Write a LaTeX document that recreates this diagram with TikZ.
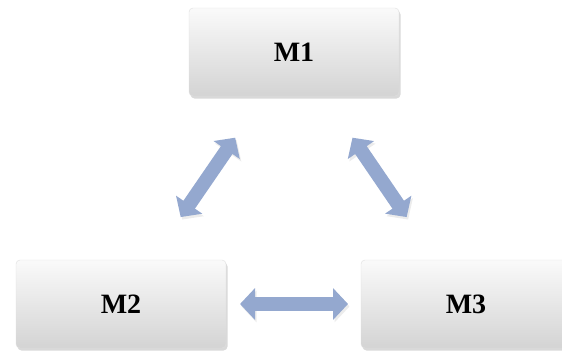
\documentclass[tikz,border=0pt]{standalone}
\usepackage{fontspec}
\setmainfont{Liberation Serif}
\usetikzlibrary{arrows.meta,shadows,calc}
\definecolor{linkblue}{HTML}{94A8CF}

\begin{document}
\begin{tikzpicture}[x=1pt, y=-1pt, node distance=345pt, main node/.style={rectangle, rounded corners=4pt, minimum width=210pt, minimum height=88pt, top color=gray!4, bottom color=gray!34, draw=gray!25, font=\bfseries\fontsize{28}{30}\selectfont, drop shadow={shadow xshift=1.5pt, shadow yshift=-2.5pt, opacity=0.3}}, link/.style={line width=14pt, linkblue, {Triangle[length=15pt,width=31pt]}-{Triangle[length=15pt,width=31pt]}, preaction={draw=gray!15, transform canvas={shift={(1.5pt,-2.5pt)}}}}]

			\useasboundingbox (0,0) rectangle (562,351);
			\clip (0,0) rectangle (562,351);

			\node[main node] (2) at (121,304) {M2};
			\node[main node] (3) [right of=2] {M3};
			\node[main node] (1) at (294,52) {M1};

			% links between the three boxes
			\draw[link] ($(1)!0.34!(2)$) to ($(1)!0.655!(2)$);
			\draw[link] ($(1)!0.34!(3)$) to ($(1)!0.655!(3)$);
			\draw[link] ($(2)!0.345!(3)$) to ($(2)!0.658!(3)$);

		\end{tikzpicture}
\end{document}
